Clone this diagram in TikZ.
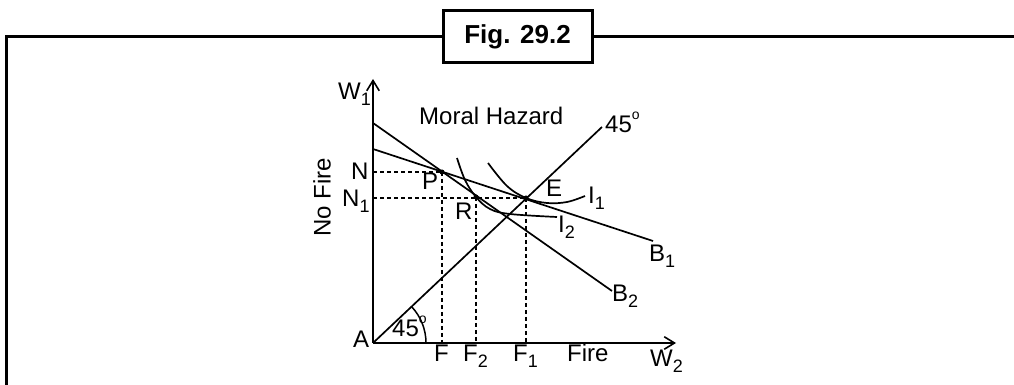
\documentclass[tikz,border=0pt]{standalone}
\usepackage{fontspec}
\setmainfont{Liberation Sans}
\usetikzlibrary{arrows.meta,calc}
\newcommand{\lsub}[1]{\raisebox{-0.45ex}{\fontsize{18}{20}\selectfont #1}}
\newcommand{\degs}{\raisebox{1.05ex}{\fontsize{14}{16}\selectfont o}}
\tikzset{
  lbl/.style  ={font=\fontsize{24}{28}\selectfont,inner sep=0pt,anchor=base west},
  axis/.style ={line width=1.8pt,-{Straight Barb[length=3.6mm,width=4.4mm,line width=1.6pt]}},
  bline/.style={line width=1.7pt},
  guide/.style={line width=1.5pt,dash pattern=on 4pt off 3pt},
  frm/.style  ={line width=3pt},
  dot/.style  ={circle,fill,inner sep=0pt,minimum size=5pt},
}

\begin{document}
\begin{tikzpicture}[x=1pt,y=1pt]
\useasboundingbox (0,0) rectangle (1014,385);

% ---- frame and caption box ------------------------------------------------
\node[frm,draw,minimum width=149pt,minimum height=52pt,inner sep=0pt,
      font=\fontsize{26}{30}\selectfont\bfseries] (fig) at (517.5,348) {Fig. 29.2};
\coordinate (fbl) at (6.5,0);
\coordinate (fr)  at (1014,348);
\draw[frm] (fig.west) -- (fig.west -| fbl) -- (fbl);
\draw[frm] (fig.east) -- (fr);

% ---- axes -----------------------------------------------------------------
\coordinate (A)    at (373,42);
\coordinate (ytop) at (373,306);
\coordinate (xend) at (676,42);
\draw[axis] (A) -- (ytop);
\draw[axis] (A) -- (xend);

% ---- budget lines and the 45 degree line ----------------------------------
\coordinate (b1s) at (373,236);  \coordinate (b1e) at (653,144);
\coordinate (b2s) at (373,262);  \coordinate (b2e) at (612,94);
\coordinate (d45) at (602,258);
\draw[bline] (b1s) -- (b1e);
\draw[bline] (b2s) -- (b2e);
\draw[bline] (A) -- (d45);
\draw[line width=1.5pt] ($(A)+(53,0)$) arc[start angle=0,end angle=43.3,radius=53];

% ---- points P, R, E -------------------------------------------------------
\node[dot] (P) at (442,213) {};
\node[dot] (R) at (476,188) {};
\node[dot] (E) at (526,187) {};

% ---- indifference curves --------------------------------------------------
\draw[bline] plot[smooth,tension=0.6] coordinates
  {(457,227) (465,205) (476,188) (490,176) (510,171) (557,168)};
\draw[bline] plot[smooth,tension=0.6] coordinates
  {(488,222) (507,199) (526,187) (547,182) (567,183) (585,189)};

% ---- dashed guides --------------------------------------------------------
\draw[guide] (A |- P.center) -- (P.center);
\draw[guide] (A |- E.center) -- (E.center);
\draw[guide] (P.center) -- (P.center |- A);
\draw[guide] (R.center) -- (R.center |- A);
\draw[guide] (E.center) -- (E.center |- A);

% ---- labels ---------------------------------------------------------------
\node[lbl] (lW1)   at (338,285) {W\lsub{1}};
\node[lbl] (lMH)   at (419,260) {Moral Hazard};
\node[lbl] (l45a)  at (605,252) {45\degs};
\node[lbl] (lN)    at (351,205) {N};
\node[lbl] (lN1)   at (342,178) {N\lsub{1}};
\node[lbl] (lP)    at (422,195) {P};
\node[lbl] (lR)    at (455,165) {R};
\node[lbl] (lE)    at (546,188) {E};
\node[lbl] (lI1)   at (588,181) {I\lsub{1}};
\node[lbl] (lI2)   at (558,152) {I\lsub{2}};
\node[lbl] (lB1)   at (649,123) {B\lsub{1}};
\node[lbl] (lB2)   at (612,83)  {B\lsub{2}};
\node[lbl] (lA)    at (353,37)  {A};
\node[lbl] (l45b)  at (392,48)  {45\degs};
\node[lbl] (lF)    at (434,23)  {F};
\node[lbl] (lF2)   at (463,23)  {F\lsub{2}};
\node[lbl] (lF1)   at (513,23)  {F\lsub{1}};
\node[lbl] (lFire) at (567,23)  {Fire};
\node[lbl] (lW2)   at (650,18)  {W\lsub{2}};
\node[lbl,anchor=center,rotate=90] (lNF) at (322,188) {No Fire};
\end{tikzpicture}
\end{document}
